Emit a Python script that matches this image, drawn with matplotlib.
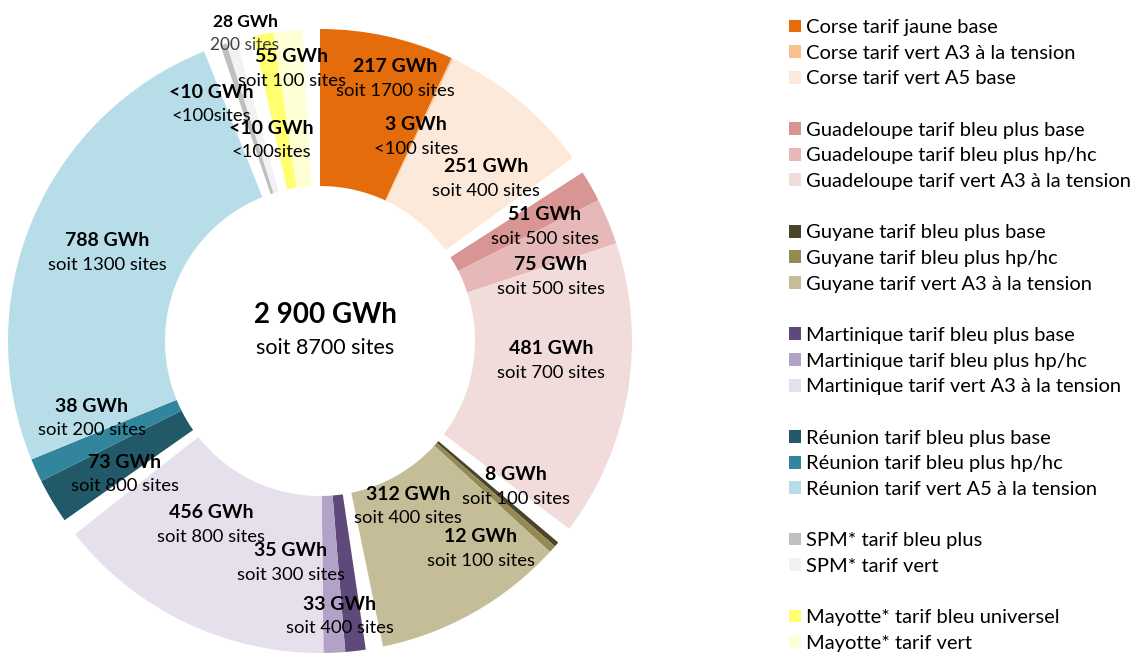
import matplotlib.pyplot as plt
from matplotlib.patches import Patch

corse = [217, 3, 251]
guadeloupe = [51, 75, 481]
guyane = [8, 12, 312]
martinique = [33, 35, 456]
reunion = [73, 38, 788]
spm = [10, 17]
mayotte = [32, 47]
gap = 28  # blank slice between territories

corse_labels = ["Corse tarif jaune base", "Corse tarif vert A3 à la tension", "Corse tarif vert A5 base"]
guadeloupe_labels = ["Guadeloupe tarif bleu plus base", "Guadeloupe tarif bleu plus hp/hc",
                     "Guadeloupe tarif vert A3 à la tension"]
guyane_labels = ["Guyane tarif bleu plus base", "Guyane tarif bleu plus hp/hc", "Guyane tarif vert A3 à la tension"]
martinique_labels = ["Martinique tarif bleu plus base", "Martinique tarif bleu plus hp/hc",
                     "Martinique tarif vert A3 à la tension"]
reunion_labels = ["Réunion tarif bleu plus base", "Réunion tarif bleu plus hp/hc", "Réunion tarif vert A5 à la tension"]
spm_labels = ["SPM* tarif bleu plus", "SPM* tarif vert"]
mayotte_labels = ["Mayotte* tarif bleu universel", "Mayotte* tarif vert"]

corse_colors = ["#E46C0A", "#FAC090", "#FDE9D9"]
guadeloupe_colors = ["#D99594", "#E6B9B8", "#F2DCDB"]
guyane_colors = ["#4A452A", "#948A54", "#C4BD97"]
martinique_colors = ["#5F497A", "#B3A2C7", "#E6E0EC"]
reunion_colors = ["#215968", "#31859C", "#B7DEE8"]
spm_colors = ["#BFBFBF", "#F2F2F2"]
mayotte_colors = ["#FFFF6F", "#FFFFD5"]

# text annotations: (bold line, second line, x, y) in pixels from top-left
annotations = [
    ("217 GWh", "soit 1700 sites", 395, 67),
    ("3 GWh", "<100 sites", 416, 125),
    ("251 GWh", "soit 400 sites", 486, 167),
    ("51 GWh", "soit 500 sites", 545, 215),
    ("75 GWh", "soit 500 sites", 551, 265),
    ("481 GWh", "soit 700 sites", 551, 349),
    ("8 GWh", "soit 100 sites", 516, 475),
    ("312 GWh", "soit 400 sites", 408, 494),
    ("12 GWh", "soit 100 sites", 481, 537),
    ("35 GWh", "soit 300 sites", 291, 551),
    ("33 GWh", "soit 400 sites", 340, 604),
    ("456 GWh", "soit 800 sites", 211, 513),
    ("73 GWh", "soit 800 sites", 125, 462),
    ("38 GWh", "soit 200 sites", 92, 406),
    ("788 GWh", "soit 1300 sites", 107, 241),
    ("<10 GWh", "<100sites", 211, 92),
    ("<10 GWh", "<100sites", 271, 128),
    ("55 GWh", "soit 100 sites", 292, 57),
]

W, H = 1139, 657
plt.rcParams['font.family'] = ['Lato', 'DejaVu Sans']

groups = [corse, guadeloupe, guyane, martinique, reunion, spm, mayotte]
group_colors = [corse_colors, guadeloupe_colors, guyane_colors, martinique_colors,
                reunion_colors, spm_colors, mayotte_colors]
group_labels = [corse_labels, guadeloupe_labels, guyane_labels, martinique_labels,
                reunion_labels, spm_labels, mayotte_labels]

values = []
colors = []
for vals, cols in zip(groups, group_colors):
    values += vals + [gap]
    colors += cols + ["none"]

fig = plt.figure(figsize=(W / 100, H / 100), dpi=100)
ax = fig.add_axes([0, 0, 1, 1])
cx, cy = 320, H - 341
ax.pie(values, colors=colors, startangle=90, counterclock=False,
       radius=312, center=(cx, cy),
       wedgeprops=dict(width=157, linewidth=0))
ax.set_xlim(0, W)
ax.set_ylim(0, H)
ax.set_aspect('equal')
ax.axis('off')

for top, bottom, x, y in annotations:
    ax.text(x, H - y, top, ha='center', va='center', fontsize=14, fontweight='bold')
    ax.text(x, H - y - 24, bottom, ha='center', va='center', fontsize=13.3)

ax.text(245, H - 22, "28 GWh", ha='center', va='center', fontsize=12.5, fontweight='bold')
ax.text(245, H - 45, "200 sites", ha='center', va='center', fontsize=12.5, color='#404040')

ax.text(325, H - 315, "2 900 GWh", ha='center', va='center', fontsize=20, fontweight='bold')
ax.text(325, H - 348, "soit 8700 sites", ha='center', va='center', fontsize=15.5)

# legend with a blank row between territories
handles = []
labels = []
for i, (cols, labs) in enumerate(zip(group_colors, group_labels)):
    if i > 0:
        handles.append(Patch(facecolor='none', edgecolor='none'))
        labels.append('')
    for c, l in zip(cols, labs):
        handles.append(Patch(facecolor=c, edgecolor='none'))
        labels.append(l)

fig.legend(handles, labels, loc='upper left', bbox_to_anchor=(789 / W, 1 - 19 / H),
           frameon=False, fontsize=14.5, handlelength=0.6, handleheight=0.6,
           handletextpad=0.25, labelspacing=0.43, borderaxespad=0, borderpad=0)

fig.savefig("out.png", dpi=100)
